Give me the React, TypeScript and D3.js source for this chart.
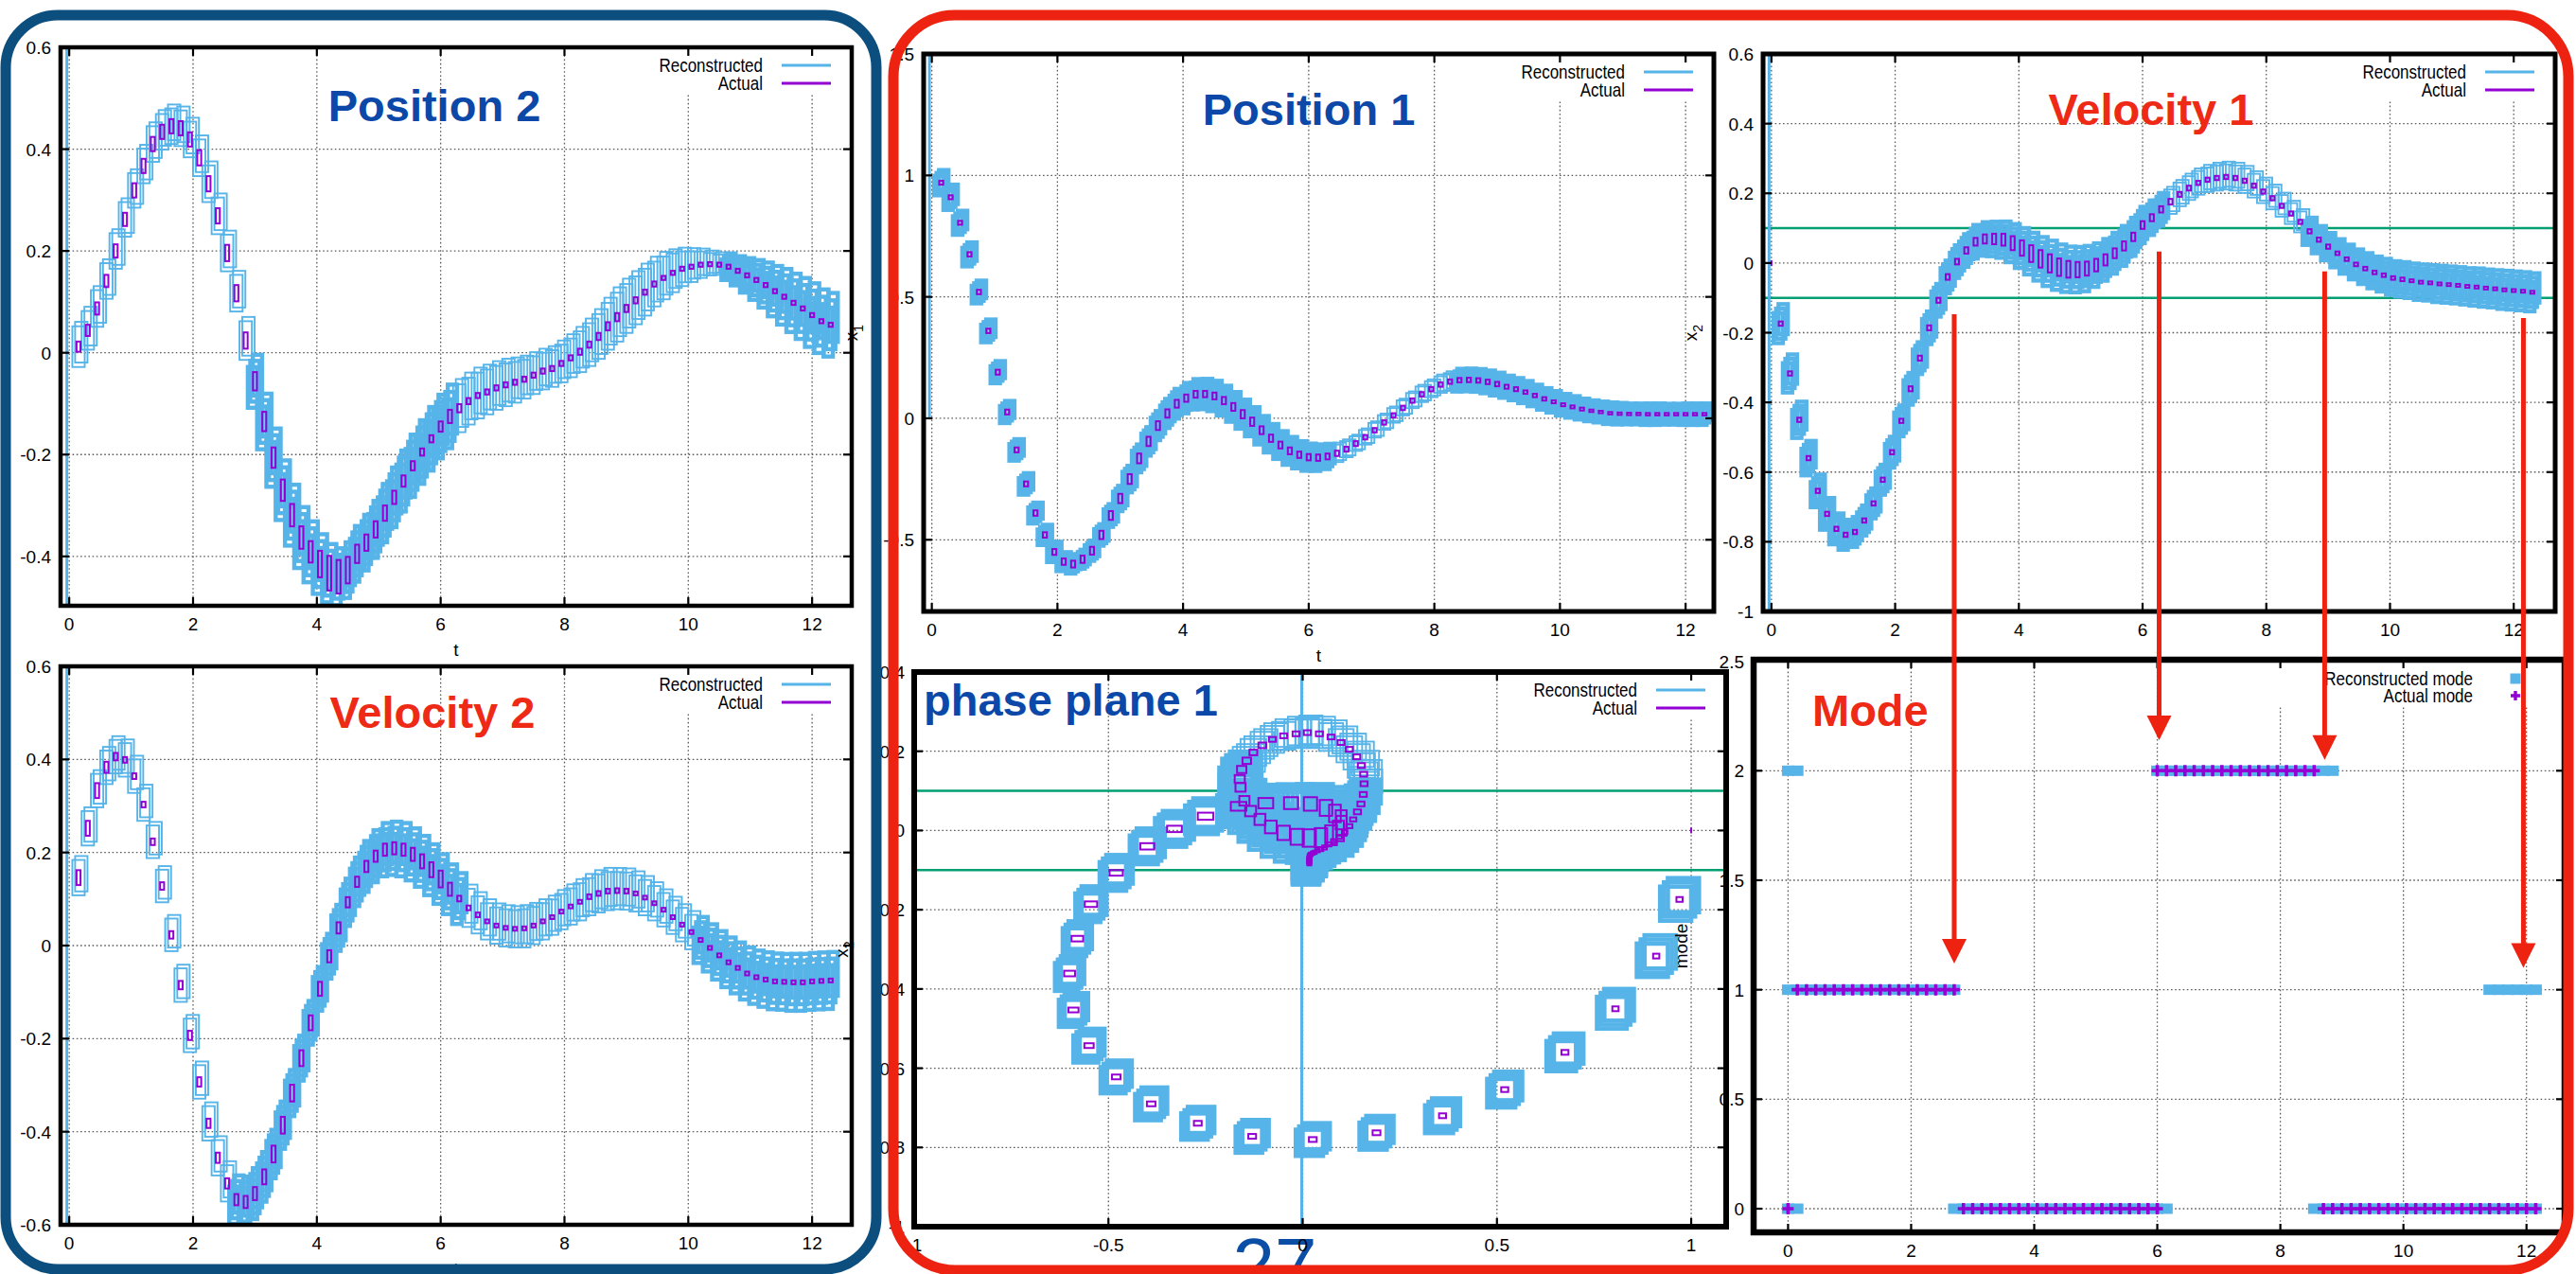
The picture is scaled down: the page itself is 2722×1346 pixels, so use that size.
import React from 'react';
import * as d3 from 'd3';

const W = 2722;
const H = 1346;
const FONT = '"Liberation Sans", Arial, Helvetica, sans-serif';

const C_RECON = '#56b4e9';
const C_ACTUAL = '#9400d3';
const C_GREEN = '#009e73';
const C_TITLE_BLUE = '#0b48a8';
const C_TITLE_RED = '#ee2a16';
const C_FRAME_BLUE = '#0c4f7f';
const C_FRAME_RED = '#ee2211';

// sample times (s)
const T = [
  0.15, 0.3, 0.45, 0.6, 0.75, 0.9, 1.05, 1.2, 1.35, 1.5,
  1.65, 1.8, 1.95, 2.1, 2.25, 2.4, 2.55, 2.7, 2.85, 3,
  3.15, 3.3, 3.45, 3.6, 3.75, 3.9, 4.05, 4.2, 4.35, 4.5,
  4.65, 4.8, 4.95, 5.1, 5.25, 5.4, 5.55, 5.7, 5.85, 6,
  6.15, 6.3, 6.45, 6.6, 6.75, 6.9, 7.05, 7.2, 7.35, 7.5,
  7.65, 7.8, 7.95, 8.1, 8.25, 8.4, 8.55, 8.7, 8.85, 9,
  9.15, 9.3, 9.45, 9.6, 9.75, 9.9, 10.05, 10.2, 10.35, 10.5,
  10.65, 10.8, 10.95, 11.1, 11.25, 11.4, 11.55, 11.7, 11.85, 12,
  12.15, 12.3,
];

// actual states
const X1 = [
  0.97, 0.91, 0.805, 0.675, 0.52, 0.36, 0.19, 0.026, -0.13, -0.27,
  -0.39, -0.48, -0.55, -0.59, -0.6, -0.58, -0.545, -0.48, -0.4, -0.33,
  -0.25, -0.165, -0.095, -0.03, 0.02, 0.06, 0.083, 0.099, 0.1, 0.092,
  0.073, 0.047, 0.017, -0.014, -0.049, -0.082, -0.11, -0.134, -0.15, -0.16,
  -0.162, -0.157, -0.144, -0.127, -0.104, -0.078, -0.049, -0.017, 0.012, 0.043,
  0.073, 0.099, 0.12, 0.139, 0.151, 0.157, 0.158, 0.156, 0.15, 0.141,
  0.13, 0.12, 0.108, 0.094, 0.08, 0.068, 0.056, 0.047, 0.038, 0.031,
  0.026, 0.021, 0.019, 0.018, 0.018, 0.017, 0.017, 0.017, 0.017, 0.017,
  0.017, 0.017,
];
const V1 = [
  -0.174, -0.317, -0.45, -0.56, -0.654, -0.72, -0.763, -0.78, -0.772, -0.739,
  -0.69, -0.622, -0.543, -0.453, -0.361, -0.273, -0.186, -0.107, -0.04, 0.004,
  0.036, 0.061, 0.069, 0.069, 0.067, 0.057, 0.043, 0.027, 0.012, -0.001,
  -0.012, -0.018, -0.019, -0.016, -0.006, 0.009, 0.028, 0.049, 0.075, 0.109,
  0.13, 0.154, 0.176, 0.197, 0.215, 0.23, 0.239, 0.244, 0.247, 0.244,
  0.236, 0.222, 0.205, 0.186, 0.164, 0.142, 0.118, 0.091, 0.067, 0.047,
  0.028, 0.011, -0.004, -0.016, -0.027, -0.035, -0.043, -0.047, -0.051, -0.055,
  -0.057, -0.06, -0.062, -0.064, -0.067, -0.069, -0.072, -0.074, -0.077, -0.079,
  -0.081, -0.084,
];
const X2 = [
  0.012, 0.044, 0.087, 0.141, 0.2, 0.262, 0.319, 0.367, 0.41, 0.434,
  0.445, 0.441, 0.419, 0.383, 0.332, 0.269, 0.196, 0.117, 0.024, -0.056,
  -0.135, -0.206, -0.27, -0.319, -0.363, -0.391, -0.415, -0.433, -0.44, -0.427,
  -0.395, -0.373, -0.347, -0.315, -0.284, -0.252, -0.222, -0.195, -0.169, -0.145,
  -0.125, -0.109, -0.095, -0.084, -0.077, -0.069, -0.063, -0.058, -0.052, -0.044,
  -0.036, -0.031, -0.021, -0.01, 0.002, 0.016, 0.032, 0.052, 0.07, 0.087,
  0.103, 0.119, 0.135, 0.147, 0.157, 0.165, 0.169, 0.173, 0.174, 0.173,
  0.169, 0.161, 0.152, 0.143, 0.133, 0.121, 0.11, 0.098, 0.087, 0.074,
  0.062, 0.055,
];
const V2 = [
  0.146, 0.252, 0.333, 0.383, 0.406, 0.399, 0.364, 0.303, 0.223, 0.128,
  0.023, -0.085, -0.193, -0.293, -0.382, -0.456, -0.511, -0.546, -0.551, -0.533,
  -0.497, -0.448, -0.386, -0.317, -0.242, -0.166, -0.093, -0.023, 0.038, 0.093,
  0.137, 0.17, 0.192, 0.206, 0.209, 0.206, 0.196, 0.181, 0.163, 0.143,
  0.121, 0.101, 0.081, 0.066, 0.052, 0.043, 0.038, 0.036, 0.037, 0.043,
  0.052, 0.061, 0.073, 0.084, 0.094, 0.105, 0.112, 0.117, 0.118, 0.117,
  0.112, 0.103, 0.091, 0.077, 0.061, 0.045, 0.029, 0.012, -0.005, -0.021,
  -0.036, -0.048, -0.06, -0.068, -0.073, -0.077, -0.078, -0.079, -0.079, -0.077,
  -0.076, -0.075,
];

// half heights of the reconstructed boxes
const RX1 = [
  0.04, 0.04, 0.038, 0.038, 0.036, 0.036, 0.035, 0.035, 0.034, 0.034,
  0.033, 0.032, 0.032, 0.03, 0.03, 0.03, 0.032, 0.034, 0.036, 0.04,
  0.042, 0.044, 0.045, 0.046, 0.046, 0.047, 0.048, 0.048, 0.048, 0.048,
  0.047, 0.047, 0.046, 0.046, 0.045, 0.045, 0.044, 0.044, 0.043, 0.043,
  0.042, 0.04, 0.036, 0.033, 0.03, 0.03, 0.03, 0.03, 0.03, 0.031,
  0.031, 0.032, 0.033, 0.034, 0.035, 0.036, 0.036, 0.036, 0.036, 0.036,
  0.035, 0.035, 0.035, 0.034, 0.034, 0.034, 0.034, 0.034, 0.033, 0.033,
  0.033, 0.034, 0.034, 0.033, 0.033, 0.034, 0.034, 0.033, 0.033, 0.034,
  0.034, 0.034,
];
const RV1 = [
  0.043, 0.042, 0.04, 0.038, 0.036, 0.035, 0.034, 0.033, 0.033, 0.033,
  0.033, 0.033, 0.034, 0.034, 0.035, 0.035, 0.036, 0.036, 0.036, 0.036,
  0.036, 0.037, 0.037, 0.038, 0.04, 0.042, 0.044, 0.046, 0.048, 0.05,
  0.05, 0.05, 0.05, 0.05, 0.048, 0.046, 0.045, 0.044, 0.042, 0.04,
  0.038, 0.036, 0.035, 0.034, 0.034, 0.034, 0.035, 0.036, 0.036, 0.036,
  0.035, 0.034, 0.033, 0.032, 0.031, 0.03, 0.03, 0.03, 0.03, 0.03,
  0.031, 0.032, 0.033, 0.034, 0.035, 0.036, 0.037, 0.038, 0.038, 0.039,
  0.039, 0.04, 0.04, 0.04, 0.04, 0.041, 0.041, 0.041, 0.042, 0.042,
  0.042, 0.042,
];
const RX2 = [
  0.04, 0.038, 0.036, 0.035, 0.035, 0.034, 0.034, 0.034, 0.035, 0.035,
  0.035, 0.035, 0.035, 0.036, 0.036, 0.036, 0.036, 0.036, 0.038, 0.04,
  0.042, 0.044, 0.045, 0.046, 0.046, 0.046, 0.045, 0.044, 0.043, 0.042,
  0.042, 0.042, 0.043, 0.044, 0.045, 0.046, 0.047, 0.048, 0.048, 0.048,
  0.048, 0.047, 0.046, 0.045, 0.044, 0.043, 0.042, 0.04, 0.038, 0.037,
  0.036, 0.036, 0.037, 0.038, 0.04, 0.042, 0.044, 0.046, 0.048, 0.048,
  0.047, 0.046, 0.044, 0.042, 0.038, 0.034, 0.03, 0.026, 0.022, 0.02,
  0.02, 0.022, 0.026, 0.03, 0.034, 0.038, 0.042, 0.044, 0.046, 0.048,
  0.048, 0.048,
];
const RV2 = [
  0.038, 0.037, 0.036, 0.036, 0.036, 0.036, 0.036, 0.035, 0.035, 0.035,
  0.035, 0.036, 0.036, 0.036, 0.037, 0.038, 0.039, 0.04, 0.042, 0.042,
  0.041, 0.04, 0.039, 0.038, 0.037, 0.036, 0.036, 0.037, 0.038, 0.039,
  0.04, 0.042, 0.043, 0.044, 0.044, 0.044, 0.043, 0.042, 0.042, 0.041,
  0.041, 0.042, 0.041, 0.04, 0.039, 0.039, 0.04, 0.04, 0.041, 0.04,
  0.039, 0.038, 0.038, 0.039, 0.04, 0.04, 0.041, 0.041, 0.04, 0.04,
  0.039, 0.038, 0.037, 0.036, 0.036, 0.036, 0.037, 0.038, 0.039, 0.04,
  0.041, 0.042, 0.043, 0.044, 0.045, 0.046, 0.046, 0.047, 0.047, 0.047,
  0.047, 0.047,
];

// half heights of the actual-state boxes
const AX1 = [
  0.008, 0.008, 0.008, 0.009, 0.009, 0.009, 0.01, 0.01, 0.01, 0.01,
  0.011, 0.011, 0.012, 0.013, 0.014, 0.015, 0.016, 0.017, 0.018, 0.019,
  0.02, 0.02, 0.019, 0.018, 0.017, 0.016, 0.015, 0.014, 0.013, 0.014,
  0.015, 0.016, 0.017, 0.017, 0.016, 0.015, 0.014, 0.014, 0.013, 0.013,
  0.013, 0.012, 0.011, 0.01, 0.01, 0.009, 0.009, 0.009, 0.009, 0.009,
  0.009, 0.009, 0.009, 0.009, 0.009, 0.009, 0.009, 0.009, 0.009, 0.009,
  0.008, 0.008, 0.007, 0.007, 0.007, 0.006, 0.006, 0.006, 0.006, 0.005,
  0.005, 0.005, 0.005, 0.005, 0.005, 0.005, 0.005, 0.005, 0.005, 0.005,
  0.005, 0.005,
];
const AV1 = [
  0.006, 0.006, 0.006, 0.006, 0.006, 0.006, 0.006, 0.006, 0.006, 0.006,
  0.006, 0.006, 0.006, 0.006, 0.007, 0.007, 0.007, 0.007, 0.008, 0.008,
  0.009, 0.011, 0.013, 0.015, 0.017, 0.02, 0.022, 0.024, 0.025, 0.026,
  0.025, 0.024, 0.022, 0.02, 0.018, 0.016, 0.014, 0.013, 0.012, 0.011,
  0.01, 0.009, 0.008, 0.007, 0.007, 0.006, 0.006, 0.006, 0.006, 0.006,
  0.006, 0.006, 0.006, 0.006, 0.006, 0.006, 0.006, 0.006, 0.006, 0.006,
  0.005, 0.005, 0.005, 0.005, 0.005, 0.005, 0.005, 0.005, 0.004, 0.004,
  0.004, 0.004, 0.004, 0.004, 0.004, 0.004, 0.004, 0.004, 0.004, 0.004,
  0.004, 0.004,
];
const AX2 = [
  0.01, 0.011, 0.012, 0.012, 0.013, 0.013, 0.014, 0.014, 0.014, 0.014,
  0.014, 0.014, 0.014, 0.015, 0.015, 0.015, 0.016, 0.016, 0.016, 0.018,
  0.019, 0.02, 0.021, 0.022, 0.022, 0.021, 0.026, 0.034, 0.033, 0.026,
  0.018, 0.016, 0.016, 0.015, 0.013, 0.011, 0.009, 0.007, 0.007, 0.01,
  0.013, 0.008, 0.006, 0.005, 0.005, 0.005, 0.005, 0.005, 0.005, 0.005,
  0.005, 0.005, 0.005, 0.005, 0.006, 0.006, 0.007, 0.008, 0.008, 0.007,
  0.006, 0.005, 0.005, 0.004, 0.004, 0.004, 0.004, 0.004, 0.004, 0.004,
  0.004, 0.004, 0.004, 0.004, 0.004, 0.004, 0.004, 0.004, 0.004, 0.004,
  0.004, 0.004,
];
const AV2 = [
  0.016, 0.016, 0.016, 0.012, 0.008, 0.006, 0.006, 0.006, 0.007, 0.008,
  0.008, 0.009, 0.01, 0.01, 0.01, 0.011, 0.011, 0.012, 0.013, 0.014,
  0.016, 0.018, 0.018, 0.018, 0.017, 0.016, 0.015, 0.013, 0.012, 0.011,
  0.011, 0.012, 0.012, 0.013, 0.013, 0.013, 0.014, 0.015, 0.016, 0.018,
  0.014, 0.006, 0.005, 0.005, 0.004, 0.004, 0.004, 0.004, 0.004, 0.004,
  0.004, 0.004, 0.004, 0.004, 0.004, 0.005, 0.005, 0.005, 0.005, 0.005,
  0.004, 0.004, 0.004, 0.004, 0.004, 0.004, 0.004, 0.004, 0.004, 0.004,
  0.004, 0.004, 0.004, 0.004, 0.004, 0.004, 0.004, 0.004, 0.004, 0.004,
  0.004, 0.004,
];

// time spans where many reconstructed boxes pile up
const X1_DENSE = [[0, 6.35], [8.3, 12.4]];
const V1_DENSE = [[0, 6.35], [8.7, 12.4]];
const X2_DENSE = [[3.0, 6.2], [10.6, 12.4]];
const V2_DENSE = [[2.7, 6.3], [10.2, 12.4]];

// initial state
const X1_0 = 1;
const V1_0 = 0;

// velocity guard lines
const GUARD = [-0.1, 0.1];

// modes: [mode, from t, to t]
const MODE_T = [0, ...T];
const MODE_RECON = [[2, 0, 0.15], [0, 0, 0.15], [1, 0, 2.7], [0, 2.7, 6.15], [2, 6.0, 8.85], [0, 8.55, 12.15], [1, 11.4, 12.15]];
const MODE_ACTUAL = [[0, 0, 0], [1, 0.15, 2.7], [0, 2.85, 6.0], [2, 6.0, 8.55], [0, 8.7, 12.15]];

// mode-switch arrows: t on the mode axis, start on velocity 1, tip on mode
const ARROW_T = [2.7, 6.03, 8.72, 11.95];
const ARROW_FROM_V = [-0.147, 0.033, -0.024, -0.158];
const ARROW_TO_MODE = [1.12, 2.14, 2.05, 1.1];

const TIME_TICKS = [0, 2, 4, 6, 8, 10, 12];
const P2_YTICKS = [-0.4, -0.2, 0, 0.2, 0.4, 0.6];
const V2_YTICKS = [-0.6, -0.4, -0.2, 0, 0.2, 0.4, 0.6];
const P1_YTICKS = [-0.5, 0, 0.5, 1, 1.5];
const V1_YTICKS = [-1, -0.8, -0.6, -0.4, -0.2, 0, 0.2, 0.4, 0.6];
const PP_XTICKS = [-1, -0.5, 0, 0.5, 1];
const PP_YTICKS = [-1, -0.8, -0.6, -0.4, -0.2, 0, 0.2, 0.4];
const MODE_YTICKS = [0, 0.5, 1, 1.5, 2, 2.5];

type Box = { left: number; right: number; top: number; bottom: number };
const P2_BOX: Box = { left: 64, right: 900, top: 50, bottom: 640 };
const V2_BOX: Box = { left: 64, right: 900, top: 704, bottom: 1294 };
const P1_BOX: Box = { left: 976, right: 1811, top: 57, bottom: 646 };
const V1_BOX: Box = { left: 1863, right: 2700, top: 57, bottom: 646 };
const PP_BOX: Box = { left: 966, right: 1824, top: 710, bottom: 1296 };
const MD_BOX: Box = { left: 1853, right: 2710, top: 697, bottom: 1302 };

type Sc = d3.ScaleLinear<number, number>;
const scales = (b: Box, xd: number[], yd: number[]) => ({
  x: d3.scaleLinear().domain(xd).range([b.left, b.right]),
  y: d3.scaleLinear().domain(yd).range([b.bottom, b.top]),
});

const fmt = (v: number) => String(Math.round(v * 100) / 100);
const inRanges = (t: number, r: number[][]) => r.some(([a, b]) => t >= a - 1e-9 && t <= b + 1e-9);

function timeMarks(x: Sc, y: Sc, vals: number[], rh: number[], ah: number[], dense: number[][]) {
  const recon = T.map((t, i) => {
    const v = vals[i];
    const h = rh[i];
    const d = inRanges(t, dense);
    const hw = d ? 0.075 : 0.1;
    const offs = d ? [[-0.04, -0.3], [0, 0], [0.04, 0.3]] : [[0, 0], [0.045, 0.22]];
    return offs.map(([dt, dv], j) => {
      const x0 = x(t + dt - hw);
      const x1 = x(t + dt + hw);
      const y0 = y(v + dv * h + h);
      const y1 = y(v + dv * h - h);
      return (
        <rect key={`r${i}-${j}`} x={x0} y={y0} width={x1 - x0} height={y1 - y0}
          fill="none" stroke={C_RECON} strokeWidth={d ? 4.4 : 1.9} />
      );
    });
  });
  const actual = T.map((t, i) => {
    const x0 = x(t - 0.032);
    const x1 = x(t + 0.032);
    const y0 = y(vals[i] + ah[i]);
    const y1 = y(vals[i] - ah[i]);
    const hh = Math.max(2, y1 - y0);
    return (
      <rect key={`a${i}`} x={x0} y={(y0 + y1) / 2 - hh / 2} width={x1 - x0} height={hh}
        fill="none" stroke={C_ACTUAL} strokeWidth={2} />
    );
  });
  return <g>{recon}{actual}</g>;
}

function phaseMarks(x: Sc, y: Sc) {
  const recon = X1.map((cx, i) => {
    const cy = V1[i];
    const hx = RX1[i];
    const hy = RV1[i];
    const d = inRanges(T[i], V1_DENSE);
    const offs = d ? [[-0.25, -0.25], [0, 0], [0.25, 0.25]] : [[0, 0], [0.3, 0.2]];
    return offs.map(([ox, oy], j) => {
      const x0 = x(cx + ox * hx - hx);
      const x1 = x(cx + ox * hx + hx);
      const y0 = y(cy + oy * hy + hy);
      const y1 = y(cy + oy * hy - hy);
      return (
        <rect key={`pr${i}-${j}`} x={x0} y={y0} width={x1 - x0} height={y1 - y0}
          fill="none" stroke={C_RECON} strokeWidth={d ? 4.6 : 1.9} />
      );
    });
  });
  const actual = X1.map((cx, i) => {
    const x0 = x(cx - AX1[i]);
    const x1 = x(cx + AX1[i]);
    const y0 = y(V1[i] + AV1[i]);
    const y1 = y(V1[i] - AV1[i]);
    return (
      <rect key={`pa${i}`} x={x0} y={y0} width={Math.max(2, x1 - x0)} height={Math.max(2, y1 - y0)}
        fill="none" stroke={C_ACTUAL} strokeWidth={2} />
    );
  });
  return (
    <g>
      <line x1={x(0) - 1} x2={x(0) - 1} y1={y.range()[0]} y2={y.range()[1]} stroke={C_RECON} strokeWidth={3} />
      {recon}
      {actual}
      <line x1={x(X1_0)} x2={x(X1_0)} y1={y(V1_0) - 3} y2={y(V1_0) + 3} stroke={C_ACTUAL} strokeWidth={2} />
    </g>
  );
}

function modeMarks(x: Sc, y: Sc) {
  const sq = MODE_RECON.flatMap(([m, a, b], r) =>
    MODE_T.filter((t) => t >= a - 1e-9 && t <= b + 1e-9).map((t) => (
      <rect key={`mr${r}-${t}`} x={x(t) - 6.5} y={y(m) - 5.5} width={13} height={11} fill={C_RECON} />
    )));
  const plus = MODE_ACTUAL.flatMap(([m, a, b], r) =>
    MODE_T.filter((t) => t >= a - 1e-9 && t <= b + 1e-9).map((t) => (
      <path key={`ma${r}-${t}`} d={`M${x(t) - 6},${y(m)}H${x(t) + 6}M${x(t)},${y(m) - 6}V${y(m) + 6}`}
        stroke={C_ACTUAL} strokeWidth={3.6} />
    )));
  return <g>{sq}{plus}</g>;
}

function guardLines(b: Box, y: Sc) {
  return GUARD.map((g) => (
    <line key={`g${g}`} x1={b.left} x2={b.right} y1={y(g)} y2={y(g)} stroke={C_GREEN} strokeWidth={2.6} />
  ));
}

function initLine(x: Sc, y0: number, y1: number) {
  return <line x1={x(0) - 2.5} x2={x(0) - 2.5} y1={y0} y2={y1} stroke={C_RECON} strokeWidth={3} />;
}

type PanelProps = {
  id: string;
  box: Box;
  x: Sc;
  y: Sc;
  xTicks: number[];
  yTicks: number[];
  border: number;
  mode?: boolean;
  title: string;
  titleColor: string;
  titleX: number;
  titleY: number;
  titleAnchor: 'middle' | 'start';
  xLabel?: boolean;
  yLabel?: React.ReactNode;
  children: React.ReactNode;
};

function Panel(p: PanelProps) {
  const { left, right, top, bottom } = p.box;
  const w = right - left;
  const h = bottom - top;
  const tk = 9;
  const legW = p.mode ? 310 : 240;
  return (
    <g>
      <clipPath id={p.id}>
        <rect x={left} y={top} width={w} height={h} />
      </clipPath>
      <g stroke="#5c5c5c" strokeWidth={1.3} strokeDasharray="1.6 2.6">
        {p.xTicks.map((t) => <line key={`gx${t}`} x1={p.x(t)} x2={p.x(t)} y1={top} y2={bottom} />)}
        {p.yTicks.map((v) => <line key={`gy${v}`} x1={left} x2={right} y1={p.y(v)} y2={p.y(v)} />)}
      </g>
      <g clipPath={`url(#${p.id})`}>{p.children}</g>
      <rect x={right - legW} y={top} width={legW} height={48} fill="#fff" />
      {p.mode ? (
        <g fontSize={20}>
          <text transform={`translate(${right - 97},${top + 27}) scale(0.85,1)`} textAnchor="end">Reconstructed mode</text>
          <rect x={right - 57.5} y={top + 14.5} width={11} height={11} fill={C_RECON} />
          <text transform={`translate(${right - 97},${top + 45}) scale(0.85,1)`} textAnchor="end">Actual mode</text>
          <path d={`M${right - 57},${top + 38}H${right - 47}M${right - 52},${top + 33}V${top + 43}`} stroke={C_ACTUAL} strokeWidth={3.4} />
        </g>
      ) : (
        <g fontSize={20}>
          <text transform={`translate(${right - 94},${top + 26}) scale(0.85,1)`} textAnchor="end">Reconstructed</text>
          <line x1={right - 74} x2={right - 22} y1={top + 19} y2={top + 19} stroke={C_RECON} strokeWidth={3} />
          <text transform={`translate(${right - 94},${top + 45}) scale(0.85,1)`} textAnchor="end">Actual</text>
          <line x1={right - 74} x2={right - 22} y1={top + 38} y2={top + 38} stroke={C_ACTUAL} strokeWidth={3} />
        </g>
      )}
      <rect x={left} y={top} width={w} height={h} fill="none" stroke="#000" strokeWidth={p.border} />
      <g stroke="#000" strokeWidth={2.2}>
        {p.xTicks.map((t) => (
          <g key={`tx${t}`}>
            <line x1={p.x(t)} x2={p.x(t)} y1={bottom} y2={bottom - tk} />
            <line x1={p.x(t)} x2={p.x(t)} y1={top} y2={top + tk} />
          </g>
        ))}
        {p.yTicks.map((v) => (
          <g key={`ty${v}`}>
            <line x1={left} x2={left + tk} y1={p.y(v)} y2={p.y(v)} />
            <line x1={right} x2={right - tk} y1={p.y(v)} y2={p.y(v)} />
          </g>
        ))}
      </g>
      <g fontSize={19} fill="#000">
        {p.xTicks.map((t) => (
          <text key={`lx${t}`} x={p.x(t)} y={bottom + 26} textAnchor="middle">{fmt(t)}</text>
        ))}
        {p.yTicks.map((v) => (
          <text key={`ly${v}`} x={left - 10} y={p.y(v) + 7} textAnchor="end">{fmt(v)}</text>
        ))}
        {p.xLabel && <text x={(left + right) / 2} y={bottom + 53} textAnchor="middle">t</text>}
        {p.yLabel && (
          <text transform={`translate(${left - 70},${(top + bottom) / 2}) rotate(-90)`} textAnchor="middle">{p.yLabel}</text>
        )}
      </g>
      <text x={p.titleX} y={p.titleY} textAnchor={p.titleAnchor} fontSize={47} fontWeight="bold" fill={p.titleColor}>
        {p.title}
      </text>
    </g>
  );
}

export default function App() {
  const p2 = scales(P2_BOX, [-0.14, 12.64], [-0.497, 0.6]);
  const v2 = scales(V2_BOX, [-0.14, 12.64], [-0.6, 0.6]);
  const p1 = scales(P1_BOX, [-0.13, 12.45], [-0.795, 1.5]);
  const v1 = scales(V1_BOX, [-0.135, 12.67], [-1, 0.6]);
  const pp = scales(PP_BOX, [-1, 1.09], [-1, 0.4]);
  const md = scales(MD_BOX, [-0.56, 12.62], [-0.108, 2.507]);

  return (
    <svg width={W} height={H} viewBox={`0 0 ${W} ${H}`} fontFamily={FONT}
      style={{ position: 'absolute', left: 0, top: 0, background: '#fff' }}>
      <rect width={W} height={H} fill="#fff" />
      <text x={1347} y={1364} textAnchor="middle" fontSize={80} fill="#0b4ea6">27</text>

      <Panel id="c-p2" box={P2_BOX} x={p2.x} y={p2.y} xTicks={TIME_TICKS} yTicks={P2_YTICKS} border={4.5}
        title="Position 2" titleColor={C_TITLE_BLUE} titleX={459} titleY={128} titleAnchor="middle" xLabel>
        {initLine(p2.x, P2_BOX.top, P2_BOX.bottom)}
        {timeMarks(p2.x, p2.y, X2, RX2, AX2, X2_DENSE)}
      </Panel>

      <Panel id="c-v2" box={V2_BOX} x={v2.x} y={v2.y} xTicks={TIME_TICKS} yTicks={V2_YTICKS} border={4.5}
        title="Velocity 2" titleColor={C_TITLE_RED} titleX={457} titleY={769} titleAnchor="middle" xLabel>
        {initLine(v2.x, V2_BOX.top, V2_BOX.bottom)}
        {timeMarks(v2.x, v2.y, V2, RV2, AV2, V2_DENSE)}
      </Panel>

      <Panel id="c-p1" box={P1_BOX} x={p1.x} y={p1.y} xTicks={TIME_TICKS} yTicks={P1_YTICKS} border={5}
        title="Position 1" titleColor={C_TITLE_BLUE} titleX={1383} titleY={132} titleAnchor="middle" xLabel
        yLabel={<>x<tspan dy={6} fontSize={14}>1</tspan></>}>
        {initLine(p1.x, P1_BOX.top, p1.y(0))}
        {timeMarks(p1.x, p1.y, X1, RX1, AX1, X1_DENSE)}
      </Panel>

      <Panel id="c-v1" box={V1_BOX} x={v1.x} y={v1.y} xTicks={TIME_TICKS} yTicks={V1_YTICKS} border={5}
        title="Velocity 1" titleColor={C_TITLE_RED} titleX={2273} titleY={132} titleAnchor="middle" xLabel
        yLabel={<>x<tspan dy={6} fontSize={14}>2</tspan></>}>
        {guardLines(V1_BOX, v1.y)}
        {initLine(v1.x, V1_BOX.top, V1_BOX.bottom)}
        {timeMarks(v1.x, v1.y, V1, RV1, AV1, V1_DENSE)}
        <line x1={v1.x(0)} x2={v1.x(0)} y1={v1.y(V1_0) - 3} y2={v1.y(V1_0) + 3} stroke={C_ACTUAL} strokeWidth={2} />
      </Panel>

      <Panel id="c-pp" box={PP_BOX} x={pp.x} y={pp.y} xTicks={PP_XTICKS} yTicks={PP_YTICKS} border={6}
        title="phase plane 1" titleColor={C_TITLE_BLUE} titleX={976} titleY={756} titleAnchor="start"
        yLabel={<>x<tspan dy={6} fontSize={14}>2</tspan></>}>
        {guardLines(PP_BOX, pp.y)}
        {phaseMarks(pp.x, pp.y)}
      </Panel>

      <Panel id="c-md" box={MD_BOX} x={md.x} y={md.y} xTicks={TIME_TICKS} yTicks={MODE_YTICKS} border={6.5} mode
        title="Mode" titleColor={C_TITLE_RED} titleX={1915} titleY={767} titleAnchor="start" yLabel="mode">
        {modeMarks(md.x, md.y)}
      </Panel>

      <rect x={6} y={16} width={920} height={1325} rx={55} fill="none" stroke={C_FRAME_BLUE} strokeWidth={11} />
      <rect x={944} y={16} width={1770} height={1326} rx={65} fill="none" stroke={C_FRAME_RED} strokeWidth={11} />

      {ARROW_T.map((t, i) => {
        const ax = md.x(t);
        const y0 = v1.y(ARROW_FROM_V[i]);
        const tip = md.y(ARROW_TO_MODE[i]);
        return (
          <g key={`arrow${i}`} fill={C_FRAME_RED}>
            <line x1={ax} x2={ax} y1={y0} y2={tip - 22} stroke={C_FRAME_RED} strokeWidth={5} />
            <path d={`M${ax - 13},${tip - 26}L${ax + 13},${tip - 26}L${ax},${tip}Z`} />
          </g>
        );
      })}
    </svg>
  );
}
